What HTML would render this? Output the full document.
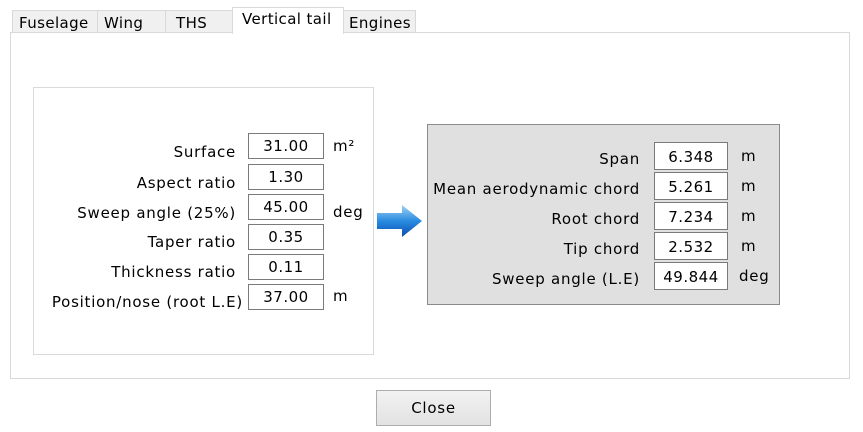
<!DOCTYPE html>
<html><head><style>
body{margin:0;width:863px;height:432px;background:#fff;position:relative;overflow:hidden;font-family:"DejaVu Sans",Verdana,sans-serif;font-size:15px;letter-spacing:0.75px;color:#000}
.a{position:absolute}
.tab{position:absolute;top:10px;height:22px;border:1px solid #d9d9d9;border-bottom:none;background:#f0f0f0;box-sizing:border-box;padding-left:6px;line-height:24px;font-size:15px;letter-spacing:0.4px;overflow:hidden}
.in{position:absolute;border:1px solid #7a7a7a;background:#fff;box-sizing:border-box;text-align:center;line-height:24px;letter-spacing:0.5px}
.lb{position:absolute;text-align:right;line-height:24px;white-space:nowrap}
</style></head><body>
<div class="a" style="left:10px;top:32px;width:840px;height:347px;border:1px solid #d9d9d9;box-sizing:border-box;background:#fff"></div>
<div class="tab" style="left:12px;width:86px">Fuselage</div>
<div class="tab" style="left:97px;width:69px">Wing</div>
<div class="tab" style="left:165px;width:68px;padding-left:10px">THS</div>
<div class="tab" style="left:232px;top:7px;height:27px;width:112px;background:#fff;padding-left:9px;line-height:22px">Vertical tail</div>
<div class="tab" style="left:343px;width:73px;padding-left:5px">Engines</div>

<div class="a" style="left:33px;top:87px;width:341px;height:268px;border:1px solid #dadada;box-sizing:border-box"></div>
<div class="lb" style="right:627px;top:140px">Surface</div>
<div class="lb" style="right:627px;top:171px">Aspect ratio</div>
<div class="lb" style="right:627px;top:201px">Sweep angle (25%)</div>
<div class="lb" style="right:627px;top:230px">Taper ratio</div>
<div class="lb" style="right:627px;top:260px">Thickness ratio</div>
<div class="lb" style="right:620px;top:290px">Position/nose (root L.E)</div>
<div class="in" style="left:248px;top:133px;width:76px;height:26px">31.00</div>
<div class="in" style="left:248px;top:164px;width:76px;height:26px">1.30</div>
<div class="in" style="left:248px;top:194px;width:76px;height:26px">45.00</div>
<div class="in" style="left:248px;top:224px;width:76px;height:26px">0.35</div>
<div class="in" style="left:248px;top:254px;width:76px;height:26px">0.11</div>
<div class="in" style="left:248px;top:284px;width:76px;height:26px">37.00</div>
<div class="lb" style="left:333px;top:134px">m²</div>
<div class="lb" style="left:333px;top:200px">deg</div>
<div class="lb" style="left:333px;top:284px">m</div>

<svg class="a" style="left:376px;top:203px" width="48" height="36" viewBox="0 0 48 36">
<defs><linearGradient id="g" x1="0" y1="0" x2="0" y2="1"><stop offset="0" stop-color="#9fd3f5"/><stop offset="0.5" stop-color="#2a8be0"/><stop offset="1" stop-color="#0a4fb0"/></linearGradient></defs>
<path d="M1 10 H26 V2 L46 18 L26 34 V26 H1 Z" fill="url(#g)"/>
</svg>

<div class="a" style="left:427px;top:124px;width:353px;height:181px;border:1px solid #8a8a8a;box-sizing:border-box;background:#e0e0e0"></div>
<div class="lb" style="right:223px;top:147px">Span</div>
<div class="lb" style="right:223px;top:177px">Mean aerodynamic chord</div>
<div class="lb" style="right:223px;top:207px">Root chord</div>
<div class="lb" style="right:223px;top:237px">Tip chord</div>
<div class="lb" style="right:223px;top:267px">Sweep angle (L.E)</div>
<div class="in" style="left:654px;top:142px;width:74px;height:28px;line-height:28px">6.348</div>
<div class="in" style="left:654px;top:172px;width:74px;height:28px;line-height:28px">5.261</div>
<div class="in" style="left:654px;top:202px;width:74px;height:28px;line-height:28px">7.234</div>
<div class="in" style="left:654px;top:232px;width:74px;height:28px;line-height:28px">2.532</div>
<div class="in" style="left:654px;top:262px;width:74px;height:28px;line-height:28px">49.844</div>
<div class="lb" style="left:741px;top:144px">m</div>
<div class="lb" style="left:741px;top:174px">m</div>
<div class="lb" style="left:741px;top:204px">m</div>
<div class="lb" style="left:741px;top:234px">m</div>
<div class="lb" style="left:739px;top:264px">deg</div>

<div class="a" style="left:376px;top:390px;width:115px;height:36px;border:1px solid #adadad;box-sizing:border-box;background:linear-gradient(#f2f2f2,#e2e2e2);text-align:center;line-height:34px">Close</div>
</body></html>
